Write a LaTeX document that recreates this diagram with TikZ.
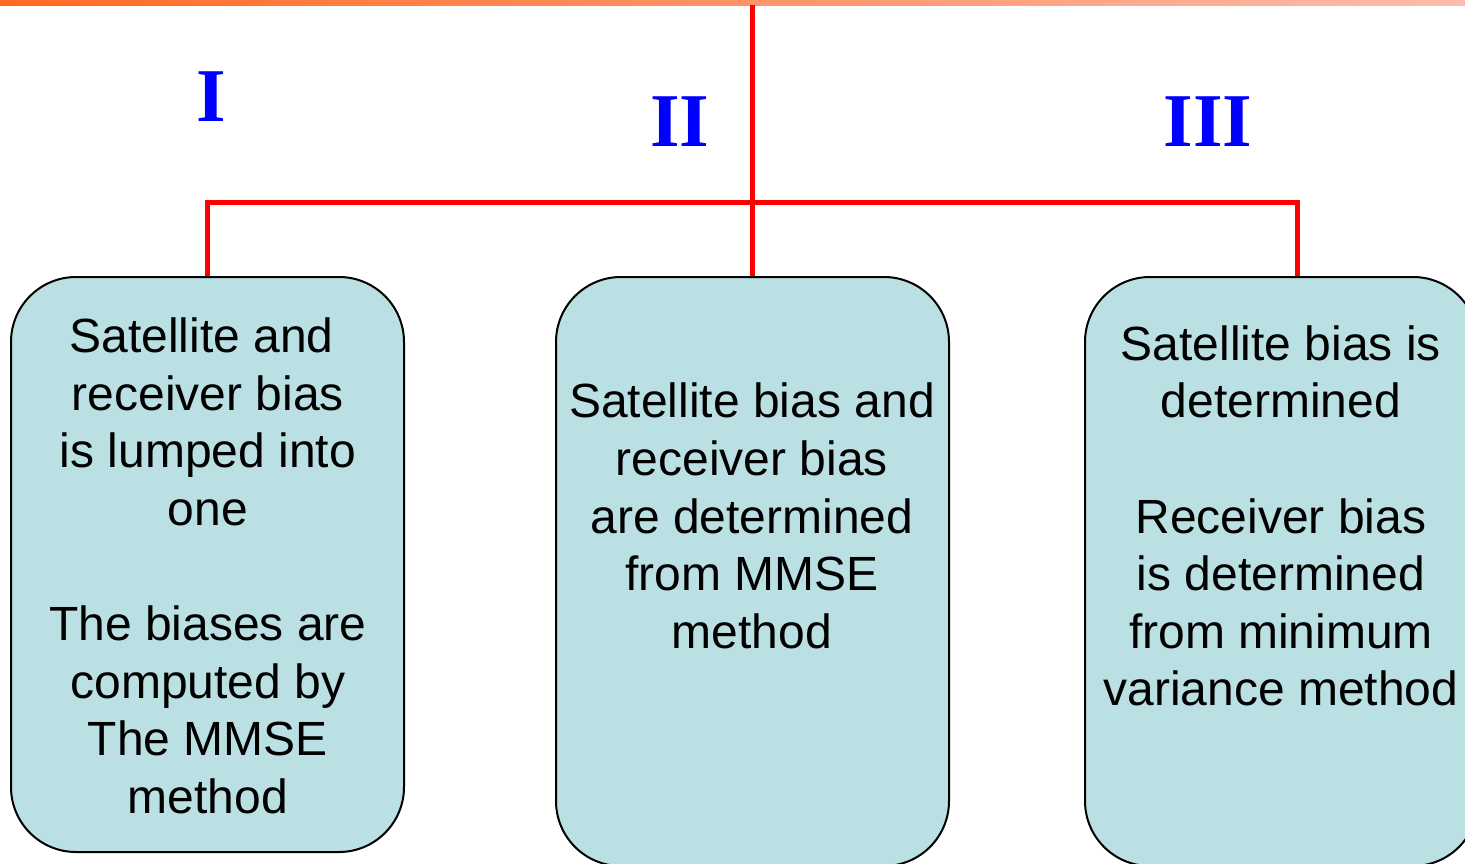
\documentclass[tikz,border=0pt]{standalone}
\usepackage{fontspec}
\setmainfont{Liberation Sans}
\newfontfamily\numfont{Liberation Serif}
\usepackage{tikz}

\begin{document}
\begin{tikzpicture}[x=1pt,y=-1pt,
    box/.style={draw,line width=2pt,fill={rgb,255:red,186;green,224;blue,227},
                rounded corners=65pt,inner sep=0pt,minimum width=393pt},
    txt/.style={align=center,inner sep=0pt,font=\fontsize{48}{57.6}\selectfont},
    num/.style={text={rgb,255:red,0;green,0;blue,255},inner sep=0pt,
                font=\numfont\bfseries\fontsize{76}{76}\selectfont},
    link/.style={draw={rgb,255:red,255;green,0;blue,0},line width=5pt}]
    \useasboundingbox (0,0) rectangle (1465,864);

    % top bar
    \shade[left color={rgb,255:red,255;green,106;blue,33},
           right color={rgb,255:red,255;green,188;blue,172}] (0,0) rectangle (1465,6);

    \node[box,minimum height=575pt] (left) at (207.5,564.5) {};
    \node[box,minimum height=589pt] (mid) at (752.5,571.5) {};
    \node[box,minimum height=589pt] (right) at (1281.5,571.5) {};

    \coordinate (top) at (752.5,5);
    \coordinate (bus) at (752.5,202);
    \coordinate (drop) at ([xshift=15.5pt]right.north);

    \draw[link] (top) -- (mid.north);
    \draw[link] (left.north) |- (bus) -| (drop);

    \node[num] (n1) at (211,97) {I};
    \node[num] (n2) at (680,122) {II};
    \node[num] (n3) at (1208,122) {III};

    \node[txt] (t1) at (208,566) {Satellite and\hspace*{13pt}\\ receiver bias\hspace*{13pt}\\
        is lumped into\\ one\\[57.6pt] The biases are\hspace*{13pt}\\ computed by\\
        The MMSE\hspace*{13pt}\\ method};
    \node[txt] (t2) at (752,516) {Satellite bias and\\ receiver bias\\
        are determined\hspace*{13pt}\\ from MMSE\\ method};
    \node[txt] (t3) at (1281,516) {Satellite bias is\\ determined\\[57.6pt]
        Receiver bias\\ is determined\hspace*{13pt}\\ from minimum\\ variance method};
\end{tikzpicture}
\end{document}
